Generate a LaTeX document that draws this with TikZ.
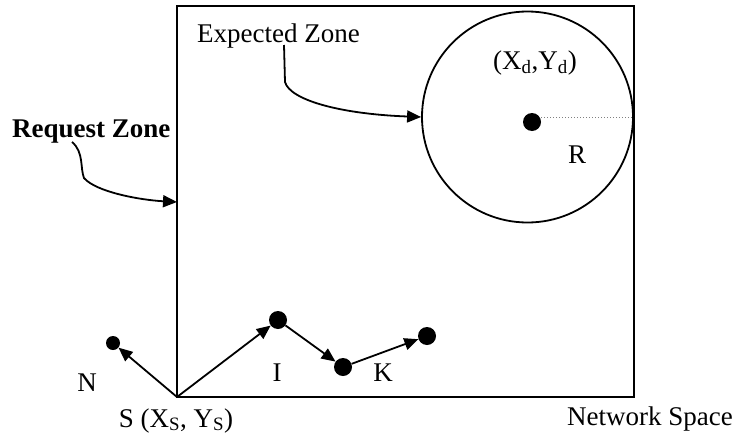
\documentclass[tikz,border=0pt]{standalone}
\usepackage{fontspec}
\setmainfont{Liberation Serif}
\usetikzlibrary{arrows.meta}
\begin{document}
\begin{tikzpicture}[x=1pt, y=-1pt,
    txt/.style={font=\fontsize{27}{31}\selectfont, inner sep=0pt},
    hop/.style={circle, fill=black, inner sep=0pt, minimum size=18pt},
    pointer/.style={line width=1.8pt, -{Triangle[length=14pt, width=12pt]}}]
  \useasboundingbox (0,0) rectangle (736,434);
  % Network space (thick black frame)
  \coordinate (src) at (177,397);
  \draw[line width=1.8pt] (src) rectangle (634,6);
  % Expected zone: circle round the destination
  \node[circle, draw, line width=1.8pt, minimum size=211pt, inner sep=0pt] (zone) at (527.5,117) {};
  \node[hop] (dst) at (532,122) {};
  \draw[dotted, gray, line width=1pt] (dst.east |- zone.east) -- (zone.east);
  \node[txt, anchor=base] (dxy) at (535,69) {(X\textsubscript{d},Y\textsubscript{d})};
  \node[txt, anchor=base] (rad) at (577,163) {R};
  % Zone labels with curved pointers
  \node[txt, anchor=base west] (ezlbl) at (197,42) {Expected Zone};
  \node[txt, anchor=base west] (rzlbl) at (12,137) {\textbf{Request Zone}};
  \coordinate (ezs) at (284,45);
  \coordinate (rzs) at (72,142);
  \coordinate (rzend) at (177,202);
  \draw[pointer] (ezs) -- (285,82) .. controls (290,100) and (340,114) .. (zone.west);
  \draw[pointer] (rzs) .. controls (84,152) and (80,168) .. (84,178)
    .. controls (96,192) and (140,200) .. (rzend);
  % Source, neighbour and route hops
  \node[hop, minimum size=14pt] (nb) at (113,343) {};
  \node[hop] (h1) at (278,320) {};
  \node[hop] (h2) at (343,367) {};
  \node[hop] (h3) at (427,336) {};
  \draw[pointer] (src) -- (nb);
  \draw[pointer] (src) -- (h1);
  \draw[pointer] (h1) -- (h2);
  \draw[pointer] (h2) -- (h3);
  % Labels
  \node[txt, anchor=base] (nlbl) at (87,391) {N};
  \node[txt, anchor=base] (ilbl) at (277,381) {I};
  \node[txt, anchor=base] (klbl) at (383,381) {K};
  \node[txt, anchor=base] (slbl) at (176,427) {S (X\textsubscript{S}, Y\textsubscript{S})};
  \node[txt, anchor=base east] (nslbl) at (733,425) {Network Space};
\end{tikzpicture}
\end{document}
